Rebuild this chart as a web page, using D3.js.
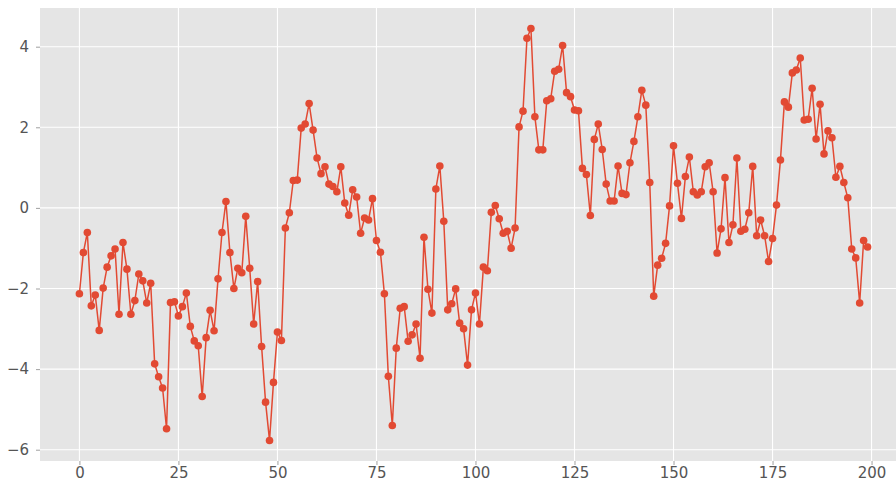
<!DOCTYPE html>
<html><head><meta charset="utf-8">
<script src="https://cdn.jsdelivr.net/npm/d3@7/dist/d3.min.js"></script>
<style>body{margin:0;background:#fff} svg{display:block}</style>
</head><body>
<svg id="c" width="896" height="485"></svg>
<script>
const values = [
-2.13,-1.11,-0.61,-2.43,-2.16,-3.04,-1.99,-1.47,-1.19,-1.02,
-2.64,-0.86,-1.52,-2.64,-2.30,-1.64,-1.81,-2.36,-1.87,-3.87,
-4.19,-4.47,-5.48,-2.35,-2.33,-2.68,-2.45,-2.11,-2.94,-3.30,
-3.42,-4.68,-3.22,-2.54,-3.05,-1.76,-0.61,0.16,-1.11,-2.00,
-1.50,-1.61,-0.21,-1.50,-2.88,-1.83,-3.44,-4.82,-5.77,-4.33,
-3.08,-3.29,-0.50,-0.12,0.68,0.69,1.98,2.08,2.59,1.93,
1.24,0.85,1.02,0.59,0.53,0.40,1.02,0.12,-0.18,0.45,
0.27,-0.63,-0.25,-0.30,0.23,-0.81,-1.10,-2.13,-4.18,-5.40,
-3.48,-2.49,-2.45,-3.31,-3.15,-2.88,-3.73,-0.73,-2.02,-2.61,
0.47,1.04,-0.33,-2.53,-2.38,-2.01,-2.86,-3.00,-3.90,-2.53,
-2.11,-2.88,-1.47,-1.56,-0.11,0.06,-0.27,-0.63,-0.58,-1.00,
-0.50,2.01,2.40,4.21,4.45,2.26,1.44,1.44,2.66,2.71,
3.39,3.44,4.03,2.86,2.76,2.43,2.41,0.98,0.83,-0.19,
1.70,2.08,1.45,0.59,0.17,0.17,1.04,0.36,0.33,1.12,
1.65,2.26,2.92,2.55,0.63,-2.19,-1.42,-1.25,-0.88,0.05,
1.54,0.61,-0.26,0.78,1.26,0.40,0.32,0.40,1.02,1.12,
0.40,-1.12,-0.52,0.75,-0.86,-0.42,1.24,-0.58,-0.53,-0.12,
1.03,-0.69,-0.30,-0.69,-1.33,-0.76,0.07,1.19,2.63,2.50,
3.35,3.42,3.72,2.18,2.20,2.97,1.71,2.57,1.34,1.91,
1.74,0.76,1.03,0.63,0.25,-1.02,-1.24,-2.36,-0.81,-0.97
];
const xTicks = [0,25,50,75,100,125,150,175,200];
const yTicks = [-6,-4,-2,0,2,4];

const svg = d3.select('#c');
const pL = 40, pR = 907, pT = 8, pB = 461;
const x = d3.scaleLinear().domain([-9.95, 208.95]).range([pL, pR]);
const y = d3.scaleLinear().domain([-6.28, 4.96]).range([pB, pT]);

svg.append('rect').attr('x', pL).attr('y', pT)
  .attr('width', pR-pL).attr('height', pB-pT).attr('fill', '#e5e5e5');

const fmt = d => (d < 0 ? '\u2212' + Math.abs(d) : '' + d);

const gx = svg.append('g').attr('transform', `translate(0,${pB})`)
  .call(d3.axisBottom(x).tickValues(xTicks).tickSize(4).tickPadding(2).tickFormat(fmt));
gx.select('.domain').remove();
gx.selectAll('.tick line').attr('stroke', '#888').attr('stroke-width', 0.8);
gx.selectAll('.tick text').attr('fill', '#555').attr('font-size', 15)
  .attr('font-family', 'DejaVu Sans');

const gy = svg.append('g').attr('transform', `translate(${pL},0)`)
  .call(d3.axisLeft(y).tickValues(yTicks).tickSize(4).tickPadding(7).tickFormat(fmt));
gy.select('.domain').remove();
gy.selectAll('.tick line').attr('stroke', '#888').attr('stroke-width', 0.8);
gy.selectAll('.tick text').attr('fill', '#555').attr('font-size', 15)
  .attr('font-family', 'DejaVu Sans');

const grid = svg.append('g');
grid.selectAll('line.v').data(xTicks).join('line').attr('class','v')
  .attr('x1', d => x(d)).attr('x2', d => x(d)).attr('y1', pT).attr('y2', pB)
  .attr('stroke', '#fff').attr('stroke-width', 1.1);
grid.selectAll('line.h').data(yTicks).join('line').attr('class','h')
  .attr('x1', pL).attr('x2', pR).attr('y1', d => y(d)).attr('y2', d => y(d))
  .attr('stroke', '#fff').attr('stroke-width', 1.1);

const line = d3.line().x((d, i) => x(i)).y(d => y(d));
svg.append('path').datum(values).attr('d', line)
  .attr('fill', 'none').attr('stroke', '#E24A33').attr('stroke-width', 1.5)
  .attr('stroke-linejoin', 'round');

svg.append('g').selectAll('circle').data(values).join('circle')
  .attr('cx', (d, i) => x(i)).attr('cy', d => y(d)).attr('r', 3.8)
  .attr('fill', '#E24A33');
</script>
</body></html>
